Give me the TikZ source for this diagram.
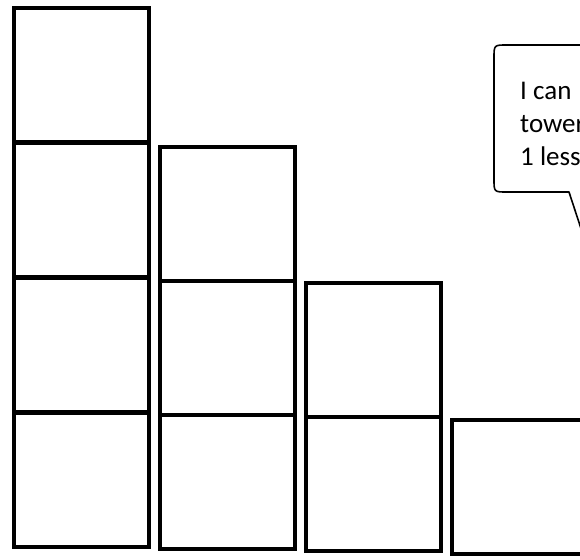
\documentclass[tikz,border=0pt]{standalone}
\usepackage{fontspec}
\setmainfont{Carlito}
\begin{document}
\begin{tikzpicture}[x=1pt,y=-1pt,
  cell/.style={draw=black, line width=4pt, minimum width=135pt, minimum height=134pt, inner sep=0pt, outer sep=0pt, anchor=north west},
  bubble/.style={draw=black, line width=1.6pt, line join=round},
  saytext/.style={anchor=base west, align=left, inner sep=0pt, font=\fontsize{27}{33}\selectfont}]
\useasboundingbox (0,0) rectangle (580,559);
\clip (0,0) rectangle (580,559);
\fill[white] (0,0) rectangle (580,559);
% tower 1
\node[cell] (t1d) at (14,8) {};
\node[cell] (t1c) at (14,143) {};
\node[cell] (t1b) at (14,278) {};
\node[cell] (t1a) at (14,413) {};
% tower 2
\node[cell] (t2c) at (160,147) {};
\node[cell] (t2b) at (160,281) {};
\node[cell] (t2a) at (160,415) {};
% tower 3
\node[cell] (t3b) at (306,283) {};
\node[cell] (t3a) at (306,417) {};
% tower 4
\node[cell] (t4a) at (452,420) {};
% speech bubble
\draw[bubble] (640,45) -- (507,45) .. controls (494,45) .. (494,58) -- (494,179)
  .. controls (494,192) .. (507,192) -- (569,192) -- (590,256) -- (600,192) -- (640,192);
\node[saytext] (say) at (520,165) {I can\\tower\\1 less};
\end{tikzpicture}
\end{document}
